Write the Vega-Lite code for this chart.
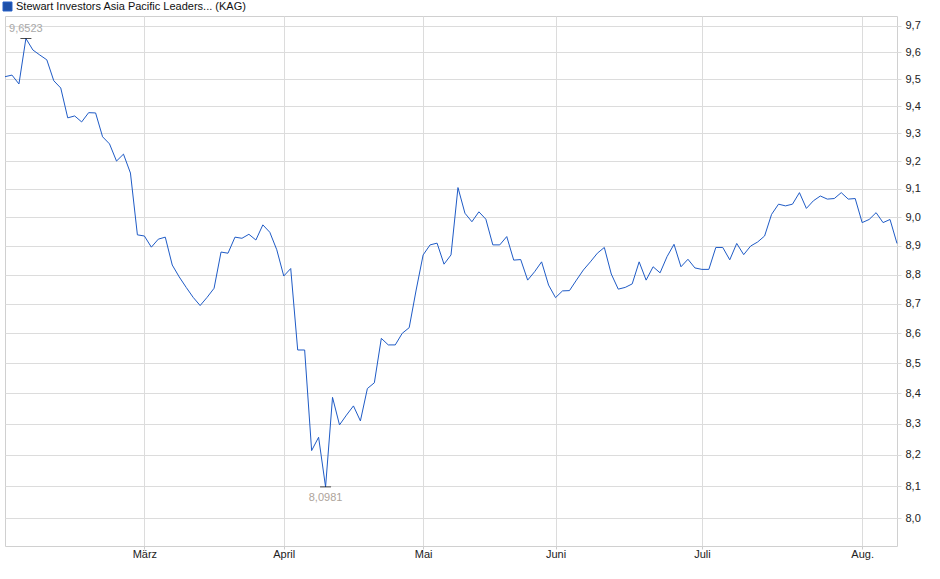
{
  "$schema": "https://vega.github.io/schema/vega-lite/v6.json",
  "autosize": {"type": "none"},
  "padding": {"left": 5, "top": 16, "right": 43, "bottom": 33},
  "width": 892,
  "height": 530,
  "background": "white",
  "data": {"values": [
    {"d": "2025-02-03", "v": 9.509}, {"d": "2025-02-04", "v": 9.515}, {"d": "2025-02-05", "v": 9.482}, {"d": "2025-02-06", "v": 9.6523},
    {"d": "2025-02-07", "v": 9.609}, {"d": "2025-02-10", "v": 9.590}, {"d": "2025-02-11", "v": 9.572}, {"d": "2025-02-12", "v": 9.494},
    {"d": "2025-02-13", "v": 9.467}, {"d": "2025-02-14", "v": 9.357}, {"d": "2025-02-17", "v": 9.364}, {"d": "2025-02-18", "v": 9.342},
    {"d": "2025-02-19", "v": 9.376}, {"d": "2025-02-20", "v": 9.375}, {"d": "2025-02-21", "v": 9.288}, {"d": "2025-02-24", "v": 9.262},
    {"d": "2025-02-25", "v": 9.200}, {"d": "2025-02-26", "v": 9.225}, {"d": "2025-02-27", "v": 9.157}, {"d": "2025-02-28", "v": 8.938},
    {"d": "2025-03-03", "v": 8.934}, {"d": "2025-03-04", "v": 8.895}, {"d": "2025-03-05", "v": 8.923}, {"d": "2025-03-06", "v": 8.930},
    {"d": "2025-03-07", "v": 8.833}, {"d": "2025-03-10", "v": 8.792}, {"d": "2025-03-11", "v": 8.756}, {"d": "2025-03-12", "v": 8.722},
    {"d": "2025-03-13", "v": 8.694}, {"d": "2025-03-14", "v": 8.722}, {"d": "2025-03-17", "v": 8.753}, {"d": "2025-03-18", "v": 8.878},
    {"d": "2025-03-19", "v": 8.874}, {"d": "2025-03-20", "v": 8.930}, {"d": "2025-03-21", "v": 8.926}, {"d": "2025-03-24", "v": 8.940},
    {"d": "2025-03-25", "v": 8.920}, {"d": "2025-03-26", "v": 8.973}, {"d": "2025-03-27", "v": 8.947}, {"d": "2025-03-28", "v": 8.886},
    {"d": "2025-04-01", "v": 8.795}, {"d": "2025-04-02", "v": 8.821}, {"d": "2025-04-03", "v": 8.544}, {"d": "2025-04-04", "v": 8.544},
    {"d": "2025-04-07", "v": 8.214}, {"d": "2025-04-08", "v": 8.257}, {"d": "2025-04-09", "v": 8.0981}, {"d": "2025-04-10", "v": 8.387},
    {"d": "2025-04-11", "v": 8.297}, {"d": "2025-04-14", "v": 8.329}, {"d": "2025-04-15", "v": 8.359}, {"d": "2025-04-16", "v": 8.310},
    {"d": "2025-04-17", "v": 8.416}, {"d": "2025-04-22", "v": 8.435}, {"d": "2025-04-23", "v": 8.583}, {"d": "2025-04-24", "v": 8.561},
    {"d": "2025-04-25", "v": 8.561}, {"d": "2025-04-28", "v": 8.600}, {"d": "2025-04-29", "v": 8.619}, {"d": "2025-04-30", "v": 8.747},
    {"d": "2025-05-02", "v": 8.868}, {"d": "2025-05-05", "v": 8.903}, {"d": "2025-05-06", "v": 8.909}, {"d": "2025-05-07", "v": 8.836},
    {"d": "2025-05-08", "v": 8.868}, {"d": "2025-05-09", "v": 9.105}, {"d": "2025-05-12", "v": 9.014}, {"d": "2025-05-13", "v": 8.984},
    {"d": "2025-05-14", "v": 9.019}, {"d": "2025-05-15", "v": 8.993}, {"d": "2025-05-16", "v": 8.903}, {"d": "2025-05-19", "v": 8.903},
    {"d": "2025-05-20", "v": 8.932}, {"d": "2025-05-21", "v": 8.850}, {"d": "2025-05-22", "v": 8.852}, {"d": "2025-05-23", "v": 8.781},
    {"d": "2025-05-26", "v": 8.810}, {"d": "2025-05-27", "v": 8.844}, {"d": "2025-05-28", "v": 8.764},
    {"d": "2025-06-02", "v": 8.721}, {"d": "2025-06-03", "v": 8.744}, {"d": "2025-06-04", "v": 8.745}, {"d": "2025-06-05", "v": 8.781},
    {"d": "2025-06-06", "v": 8.816}, {"d": "2025-06-09", "v": 8.844}, {"d": "2025-06-10", "v": 8.874}, {"d": "2025-06-11", "v": 8.894},
    {"d": "2025-06-12", "v": 8.802}, {"d": "2025-06-13", "v": 8.750}, {"d": "2025-06-16", "v": 8.756}, {"d": "2025-06-17", "v": 8.768},
    {"d": "2025-06-18", "v": 8.844}, {"d": "2025-06-19", "v": 8.781}, {"d": "2025-06-20", "v": 8.827}, {"d": "2025-06-23", "v": 8.806},
    {"d": "2025-06-24", "v": 8.862}, {"d": "2025-06-25", "v": 8.905}, {"d": "2025-06-26", "v": 8.827}, {"d": "2025-06-27", "v": 8.853},
    {"d": "2025-06-30", "v": 8.823},
    {"d": "2025-07-01", "v": 8.818}, {"d": "2025-07-02", "v": 8.818}, {"d": "2025-07-03", "v": 8.894}, {"d": "2025-07-04", "v": 8.894},
    {"d": "2025-07-07", "v": 8.851}, {"d": "2025-07-08", "v": 8.908}, {"d": "2025-07-09", "v": 8.869}, {"d": "2025-07-10", "v": 8.899},
    {"d": "2025-07-11", "v": 8.913}, {"d": "2025-07-14", "v": 8.934}, {"d": "2025-07-15", "v": 9.010}, {"d": "2025-07-16", "v": 9.046},
    {"d": "2025-07-17", "v": 9.040}, {"d": "2025-07-18", "v": 9.046}, {"d": "2025-07-21", "v": 9.087}, {"d": "2025-07-22", "v": 9.031},
    {"d": "2025-07-23", "v": 9.058}, {"d": "2025-07-24", "v": 9.075}, {"d": "2025-07-25", "v": 9.064}, {"d": "2025-07-28", "v": 9.066},
    {"d": "2025-07-29", "v": 9.087}, {"d": "2025-07-30", "v": 9.064}, {"d": "2025-07-31", "v": 9.066},
    {"d": "2025-08-01", "v": 8.981}, {"d": "2025-08-04", "v": 8.992}, {"d": "2025-08-05", "v": 9.016}, {"d": "2025-08-06", "v": 8.981},
    {"d": "2025-08-07", "v": 8.992}, {"d": "2025-08-08", "v": 8.908}
  ]},
  "transform": [
    {"calculate": "'Stewart Investors Asia Pacific Leaders... (KAG)'", "as": "s"},
    {"calculate": "replace(format(datum.v, '.4f'), '.', ',')", "as": "lbl"},
    {"joinaggregate": [{"op": "max", "field": "v", "as": "mx"}, {"op": "min", "field": "v", "as": "mn"}]}
  ],
  "encoding": {
    "x": {
      "field": "d",
      "type": "ordinal",
      "sort": null,
      "scale": {"type": "point", "padding": 0},
      "axis": {
        "title": null,
        "values": ["2025-03-03", "2025-04-01", "2025-05-02", "2025-06-02", "2025-07-01", "2025-08-01"],
        "labelExpr": "{'03': 'März', '04': 'April', '05': 'Mai', '06': 'Juni', '07': 'Juli', '08': 'Aug.'}[substring(datum.value, 5, 7)]",
        "labelAngle": 0,
        "grid": true,
        "gridColor": "#dcdcdc",
        "domain": false,
        "tickColor": "#cccccc",
        "tickSize": 3,
        "labelPadding": -1,
        "labelFont": "Liberation Sans",
        "labelFontSize": 11,
        "labelColor": "#222222"
      }
    },
    "y": {
      "field": "v",
      "type": "quantitative",
      "scale": {"type": "log", "domain": [7.9128, 9.7377], "nice": false, "zero": false},
      "axis": {
        "title": null,
        "orient": "right",
        "values": [8.0, 8.1, 8.2, 8.3, 8.4, 8.5, 8.6, 8.7, 8.8, 8.9, 9.0, 9.1, 9.2, 9.3, 9.4, 9.5, 9.6, 9.7],
        "labelExpr": "replace(format(datum.value, '.1f'), '.', ',')",
        "grid": true,
        "gridColor": "#dcdcdc",
        "domain": false,
        "tickColor": "#dcdcdc",
        "tickSize": 4,
        "labelPadding": 4,
        "labelFont": "Liberation Sans",
        "labelFontSize": 11,
        "labelColor": "#222222"
      }
    }
  },
  "layer": [
    {
      "mark": {"type": "line", "strokeWidth": 1, "interpolate": "linear"},
      "encoding": {
        "color": {
          "field": "s",
          "type": "nominal",
          "scale": {"range": ["#1f5bc6"]},
          "legend": {
            "title": null,
            "orient": "none",
            "legendX": -3,
            "legendY": -15,
            "symbolType": "square",
            "symbolSize": 80,
            "labelFont": "Liberation Sans",
            "labelFontSize": 11,
            "labelColor": "#111111",
            "labelOffset": 3,
            "labelLimit": 400,
            "padding": 0,
            "encode": {
              "symbols": {"update": {"fill": {"value": "#1d4fa8"}, "stroke": {"value": "#0c2560"}, "strokeWidth": {"value": 1}, "opacity": {"value": 1}}}
            }
          }
        }
      }
    },
    {
      "transform": [{"filter": "datum.v == datum.mx || datum.v == datum.mn"}],
      "mark": {"type": "tick", "orient": "horizontal", "size": 11, "thickness": 1, "color": "#000000"}
    },
    {
      "transform": [{"filter": "datum.v == datum.mx"}],
      "mark": {"type": "text", "dy": -9, "font": "Liberation Sans", "fontSize": 11, "color": "#a8a8a8"},
      "encoding": {"text": {"field": "lbl"}}
    },
    {
      "transform": [{"filter": "datum.v == datum.mn"}],
      "mark": {"type": "text", "dy": 11, "font": "Liberation Sans", "fontSize": 11, "color": "#ada39a"},
      "encoding": {"text": {"field": "lbl"}}
    }
  ],
  "config": {
    "view": {"stroke": "#d0d0d0", "strokeWidth": 1}
  }
}
